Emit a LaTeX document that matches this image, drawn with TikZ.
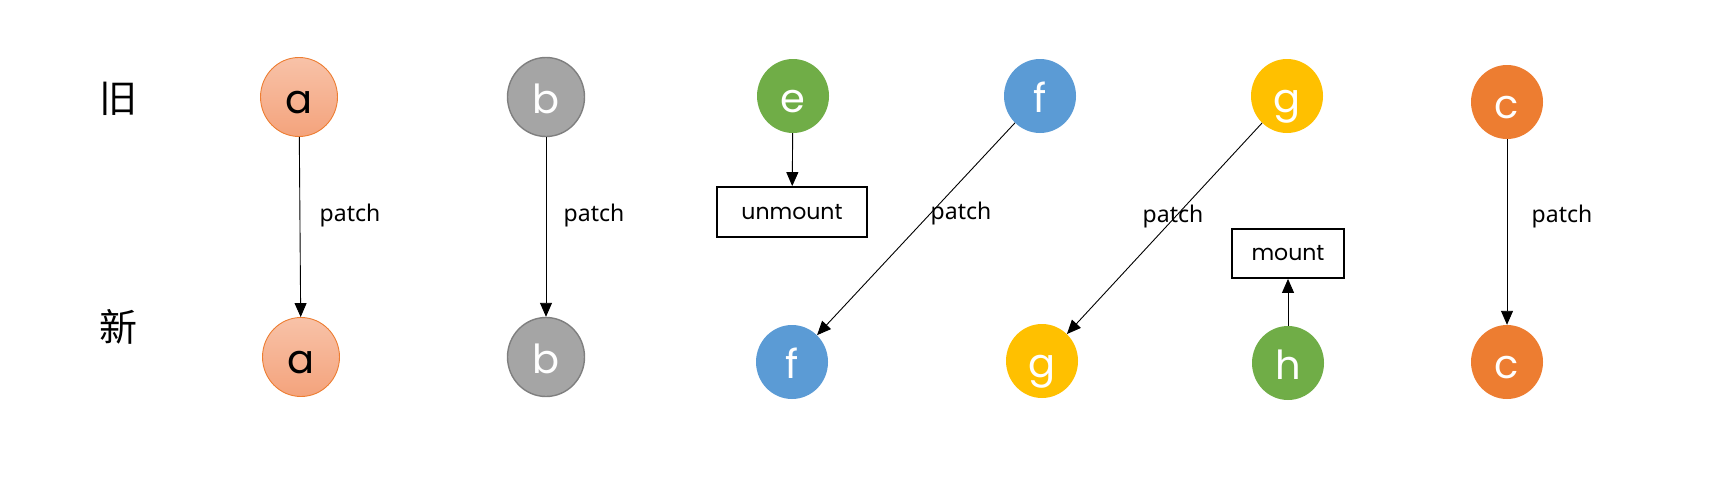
\documentclass[tikz,border=0pt]{standalone}
\usepackage{fontspec}
\setmainfont{Noto Sans}
\newfontfamily\letterfont{Poppins}
\newfontfamily\cjkfont{Noto Sans CJK SC}
\usetikzlibrary{shapes.geometric,arrows.meta}
\definecolor{cOrange}{HTML}{ED7D31}
\definecolor{cPeachTop}{HTML}{F8C2A8}
\definecolor{cPeachBot}{HTML}{F4A37C}
\definecolor{cGray}{HTML}{A5A5A5}
\definecolor{cGrayLine}{HTML}{7F7F7F}
\definecolor{cGreen}{HTML}{70AD47}
\definecolor{cBlue}{HTML}{5B9BD5}
\definecolor{cGold}{HTML}{FFC000}
\tikzset{
  vnode/.style={ellipse, inner sep=0pt, minimum width=72pt, minimum height=74pt,
    font=\letterfont\fontsize{40}{48}\selectfont, text=white,
    text height=33pt, text depth=0pt},
  bignode/.style={vnode, minimum width=77pt, minimum height=79pt},
  peach/.style={bignode, draw=cOrange, line width=0.9pt, top color=cPeachTop, bottom color=cPeachBot, text=black},
  grey/.style={bignode, draw=cGrayLine, line width=1.4pt, fill=cGray},
  actbox/.style={draw=black, line width=1.8pt, inner sep=0pt, font=\letterfont\fontsize{22}{26}\selectfont},
  conn/.style={line width=0.9pt, -{Triangle[length=14pt,width=12pt]}},
  lbl/.style={font=\fontsize{23}{28}\selectfont},
  side/.style={font=\cjkfont\fontsize{38}{44}\selectfont}
}
\begin{document}
\begin{tikzpicture}[x=1pt,y=-1pt]
\useasboundingbox (0,0) rectangle (1712,490);
\node[side] (old) at (118,99) {旧};
\node[side] (new) at (118,327) {新};
% top row
\node[peach] (a1) at (299,97) {a};
\node[grey] (b1) at (546,97) {b};
\node[vnode, fill=cGreen] (e1) at (793,96) {e};
\node[vnode, fill=cBlue] (f1) at (1040,96) {f};
\node[vnode, fill=cGold] (g1) at (1287,96) {g};
\node[vnode, fill=cOrange] (c1) at (1507,102) {c};
% bottom row
\node[peach] (a2) at (301,357) {a};
\node[grey] (b2) at (546,357) {b};
\node[vnode, fill=cBlue] (f2) at (792,362) {f};
\node[vnode, fill=cGold] (g2) at (1042,361) {g};
\node[vnode, fill=cGreen] (h2) at (1288,363) {h};
\node[vnode, fill=cOrange] (c2) at (1507,362) {c};
% boxes
\node[actbox, minimum width=150pt, minimum height=50pt] (um) at (792,212) {unmount};
\node[actbox, minimum width=112pt, minimum height=49pt] (mt) at (1288,253.5) {mount};
% connectors
\draw[conn] (a1) -- (a2);
\draw[conn] (b1) -- (b2);
\draw[conn] (e1) -- (um);
\draw[conn] (f1) -- (f2);
\draw[conn] (g1) -- (g2);
\draw[conn] (h2) -- (mt);
\draw[conn] (c1) -- (c2);
% labels
\node[lbl] (pa) at (350,216) {patch};
\node[lbl] (pb) at (594,216) {patch};
\node[lbl] (pf) at (961,214) {patch};
\node[lbl] (pg) at (1173,217) {patch};
\node[lbl] (pc) at (1562,217) {patch};
\end{tikzpicture}
\end{document}
